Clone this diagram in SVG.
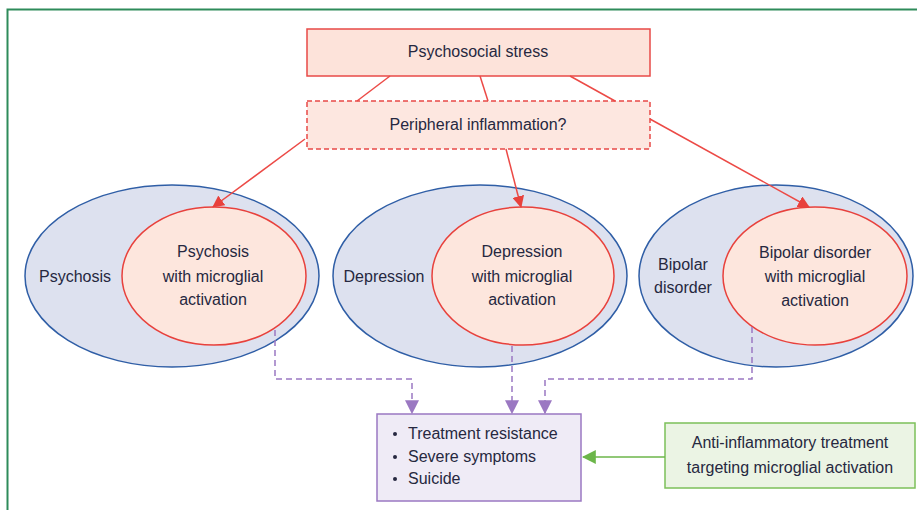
<svg xmlns="http://www.w3.org/2000/svg" width="917" height="510" viewBox="0 0 917 510">
<style>
text{font-family:"Liberation Sans","Noto Sans",sans-serif;font-size:16px;fill:#262840;}
.c{text-anchor:middle;}
.outer{fill:#dde1ef;stroke:#2f5ea6;stroke-width:1.5;}
.inner{fill:#fde6dd;stroke:#e8413c;stroke-width:1.5;}
.red{stroke:#ec4a46;stroke-width:1.5;fill:none;}
.pur{stroke:#9b78c2;stroke-width:1.5;fill:none;stroke-dasharray:6,4;}
</style>
<defs>
<marker id="ar" markerWidth="12" markerHeight="12" viewBox="0 0 12 12" refX="11" refY="6" orient="auto" markerUnits="userSpaceOnUse">
<path d="M0,0 L12,6 L0,12 Z" fill="#e8413c"/>
</marker>
<marker id="ap" markerWidth="14" markerHeight="14" viewBox="0 0 12 12" refX="11" refY="6" orient="auto" markerUnits="userSpaceOnUse">
<path d="M0,0 L12,6 L0,12 Z" fill="#9b78c2"/>
</marker>
<marker id="ag" markerWidth="14" markerHeight="14" viewBox="0 0 12 12" refX="11" refY="6" orient="auto" markerUnits="userSpaceOnUse">
<path d="M0,0 L12,6 L0,12 Z" fill="#6cb64a"/>
</marker>
</defs>
<path d="M7.5,510 V9.5 H917" fill="none" stroke="#2e8b5a" stroke-width="2"/>

<g id="stress">
<rect x="307" y="29" width="343" height="47" fill="#fde3da" stroke="#e84a47" stroke-width="1.5"/>
<text class="c" x="478" y="57">Psychosocial stress</text>
</g>
<g id="inflammation">
<rect x="307" y="101" width="343" height="48" fill="#fde7e0" stroke="#e84a47" stroke-width="1.5" stroke-dasharray="5,3"/>
<text class="c" x="478" y="130">Peripheral inflammation?</text>
</g>

<g id="psychosis">
<ellipse class="outer" cx="172" cy="276" rx="147" ry="91"/>
<text class="c" x="75" y="282">Psychosis</text>
</g>
<g id="psychosis-micro">
<ellipse class="inner" cx="214" cy="276" rx="92" ry="69"/>
<text class="c" x="213" y="257">Psychosis</text>
<text class="c" x="213" y="282">with microglial</text>
<text class="c" x="213" y="305">activation</text>
</g>

<g id="depression">
<ellipse class="outer" cx="480" cy="276" rx="147" ry="91"/>
<text class="c" x="384" y="282">Depression</text>
</g>
<g id="depression-micro">
<ellipse class="inner" cx="523" cy="276" rx="91" ry="69"/>
<text class="c" x="522" y="257">Depression</text>
<text class="c" x="522" y="282">with microglial</text>
<text class="c" x="522" y="305">activation</text>
</g>

<g id="bipolar">
<ellipse class="outer" cx="776" cy="276" rx="137" ry="91"/>
<text class="c" x="683" y="270">Bipolar</text>
<text class="c" x="683" y="293">disorder</text>
</g>
<g id="bipolar-micro">
<ellipse class="inner" cx="815" cy="276" rx="92" ry="69"/>
<text class="c" x="815" y="258">Bipolar disorder</text>
<text class="c" x="815" y="282">with microglial</text>
<text class="c" x="815" y="306">activation</text>
</g>

<g id="outcomes">
<rect x="377" y="414" width="204" height="87" fill="#efebf6" stroke="#9b78c2" stroke-width="1.5"/>
<circle cx="395" cy="434" r="2" fill="#262840"/>
<circle cx="395" cy="457" r="2" fill="#262840"/>
<circle cx="395" cy="479" r="2" fill="#262840"/>
<text x="408" y="439">Treatment resistance</text>
<text x="408" y="462">Severe symptoms</text>
<text x="408" y="484">Suicide</text>
</g>

<g id="anti-inflammatory">
<rect x="665" y="423" width="250" height="65" fill="#ebf4e4" stroke="#7cc05a" stroke-width="1.5"/>
<text class="c" x="790" y="448">Anti-inflammatory treatment</text>
<text class="c" x="790" y="473">targeting microglial activation</text>
</g>

<g id="connectors">
<line class="red" x1="390" y1="76" x2="357" y2="101"/>
<line class="red" x1="480" y1="76" x2="488" y2="101"/>
<line class="red" x1="570" y1="76" x2="615" y2="101"/>
<line class="red" x1="305" y1="139" x2="213" y2="207" marker-end="url(#ar)"/>
<line class="red" x1="506" y1="149" x2="521" y2="207" marker-end="url(#ar)"/>
<line class="red" x1="650" y1="119" x2="809" y2="207" marker-end="url(#ar)"/>
<path class="pur" d="M275,330 V379 H412 V413" marker-end="url(#ap)"/>
<path class="pur" d="M512,346 V413" marker-end="url(#ap)"/>
<path class="pur" d="M752,327 V379 H545 V413" marker-end="url(#ap)"/>
<line x1="665" y1="457" x2="583" y2="457" stroke="#6cb64a" stroke-width="1.5" marker-end="url(#ag)"/>
</g>
</svg>
